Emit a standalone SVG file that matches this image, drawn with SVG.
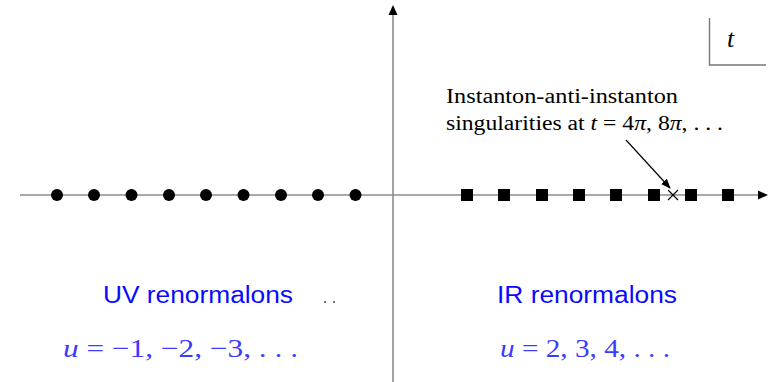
<svg xmlns="http://www.w3.org/2000/svg" width="771" height="382" viewBox="0 0 771 382">
<style>
.axis{stroke:#8c8c8c;stroke-width:1.6;fill:none}
.pole{fill:#000}
.serif{font-family:"Liberation Serif","DejaVu Serif",serif;fill:#000}
.it{font-style:italic}
.label{font-family:"Liberation Sans",Arial,sans-serif;fill:#0a0aff;font-size:23px}
.math{font-family:"Liberation Serif","DejaVu Serif",serif;fill:#3b3bff;font-size:26px}
</style>
<defs>
<marker id="ah" markerWidth="10" markerHeight="8" refX="9" refY="4" orient="auto" markerUnits="userSpaceOnUse">
<path d="M0,0 L10,4 L0,8 Z" fill="#000"/>
</marker>
</defs>
<rect width="771" height="382" fill="#fff"/>
<g id="connectors">
<line class="axis" x1="20" y1="195" x2="759" y2="195"/>
<path d="M758,190.5 L768,195 L758,199.5 Z" fill="#000"/>
<line class="axis" x1="393" y1="382" x2="393" y2="14"/>
<path d="M388.5,15 L393,5 L397.5,15 Z" fill="#000"/>
<line x1="626" y1="140" x2="670" y2="188" stroke="#000" stroke-width="1.2" marker-end="url(#ah)"/>
</g>
<g id="uv-poles" class="pole">
<circle cx="57" cy="195" r="6"/>
<circle cx="94" cy="195" r="6"/>
<circle cx="131.5" cy="195" r="6"/>
<circle cx="169" cy="195" r="6"/>
<circle cx="206" cy="195" r="6"/>
<circle cx="243.5" cy="195" r="6"/>
<circle cx="281" cy="195" r="6"/>
<circle cx="318" cy="195" r="6"/>
<circle cx="355.5" cy="195" r="6"/>
</g>
<g id="ir-poles" class="pole">
<rect x="461" y="189" width="12" height="12"/>
<rect x="498" y="189" width="12" height="12"/>
<rect x="536" y="189" width="12" height="12"/>
<rect x="573" y="189" width="12" height="12"/>
<rect x="610" y="189" width="12" height="12"/>
<rect x="648" y="189" width="12" height="12"/>
<rect x="685" y="189" width="12" height="12"/>
<rect x="722" y="189" width="12" height="12"/>
</g>
<g id="instanton-cross">
<path d="M668,190 L678,200 M678,190 L668,200" stroke="#000" stroke-width="1.2"/>
</g>
<g id="t-box">
<path d="M709.5,18 L709.5,65 L766,65" stroke="#777" stroke-width="1.4" fill="none"/>
<text x="727" y="47" class="serif it" font-size="26">t</text>
</g>
<g id="instanton-label" class="serif" font-size="20">
<text x="446" y="103" textLength="232" lengthAdjust="spacingAndGlyphs">Instanton-anti-instanton</text>
<text x="446" y="130" textLength="277" lengthAdjust="spacingAndGlyphs">singularities at <tspan class="it">t</tspan> = 4<tspan class="it">π</tspan>, 8<tspan class="it">π</tspan>, . . .</text>
</g>
<g id="uv-label">
<text x="103" y="303" class="label" textLength="190" lengthAdjust="spacingAndGlyphs">UV renormalons</text>
<circle cx="325" cy="302" r="0.9" fill="#333"/>
<circle cx="334" cy="302" r="0.9" fill="#333"/>
<text x="63" y="357" class="math" textLength="235" lengthAdjust="spacingAndGlyphs"><tspan font-style="italic">u</tspan> = −1, −2, −3, . . .</text>
</g>
<g id="ir-label">
<text x="497" y="303" class="label" textLength="180" lengthAdjust="spacingAndGlyphs">IR renormalons</text>
<text x="500" y="357" class="math" textLength="170" lengthAdjust="spacingAndGlyphs"><tspan font-style="italic">u</tspan> = 2, 3, 4, . . .</text>
</g>
</svg>
